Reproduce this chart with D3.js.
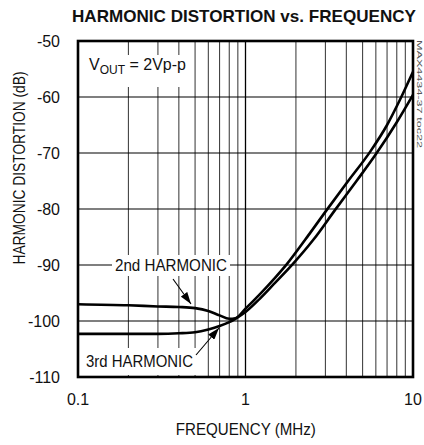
<!DOCTYPE html>
<html><head><meta charset="utf-8">
<script src="https://cdn.jsdelivr.net/npm/d3@7"></script>
<style>body{margin:0;background:#fff}svg{display:block;font-family:"Liberation Sans",Arial,sans-serif}</style>
</head><body><svg id="c" width="424" height="445"></svg>
<script>
const freq2 = [0.1,0.2,0.3,0.4,0.5,0.6,0.7,0.8,0.87,1.0,1.22,1.5,1.77,2.27,3.05,4.1,5.54,7.0,8.36,10];
const h2    = [-97.0,-97.2,-97.4,-97.5,-97.7,-98.2,-99.0,-99.6,-99.5,-97.8,-95.2,-92.3,-89.8,-85.5,-80.2,-75.0,-69.8,-65.0,-60.5,-55.5];
const freq3 = [0.1,0.2,0.3,0.4,0.5,0.6,0.7,0.8,0.87,1.0,1.22,1.5,1.92,2.54,3.42,4.6,6.07,8,10];
const h3    = [-102.3,-102.3,-102.3,-102.2,-102.0,-101.5,-100.9,-100.2,-99.6,-98.4,-96.0,-93.2,-89.8,-85.5,-80.2,-75,-70,-64.5,-59.6];
const yTicks = [-50,-60,-70,-80,-90,-100,-110];
const xTicks = [0.1,1,10];
const xTickLabels = ["0.1","1","10"];
const minorFreqs = [0.2,0.3,0.4,0.5,0.6,0.7,0.8,0.9,2,3,4,5,6,7,8,9];

const svg = d3.select("#c");
const L=78,R=413,T=41,B=377;
const x = d3.scaleLog().domain([0.1,10]).range([L,R]);
const y = d3.scaleLinear().domain([-110,-50]).range([B,T]);

// grid
svg.append("g").selectAll("line").data(minorFreqs).join("line")
  .attr("x1",d=>x(d)).attr("x2",d=>x(d)).attr("y1",T).attr("y2",B)
  .attr("stroke","#444").attr("stroke-width",1.1);
svg.append("line").attr("x1",x(1)).attr("x2",x(1)).attr("y1",T).attr("y2",B)
  .attr("stroke","#000").attr("stroke-width",1.3);
svg.append("g").selectAll("line").data(yTicks.slice(1,-1)).join("line")
  .attr("x1",L).attr("x2",R).attr("y1",d=>y(d)).attr("y2",d=>y(d))
  .attr("stroke","#000").attr("stroke-width",1.1);

// white label boxes
svg.append("rect").attr("x",84).attr("y",55).attr("width",100).attr("height",32).attr("fill","#fff");
svg.append("rect").attr("x",112).attr("y",255).attr("width",118).attr("height",21).attr("fill","#fff");
svg.append("rect").attr("x",81).attr("y",348).attr("width",116).attr("height",27).attr("fill","#fff");

// curves
const line = d3.line().x(d=>x(d[0])).y(d=>y(d[1])).curve(d3.curveMonotoneX);
svg.append("path").datum(freq3.map((f,i)=>[f,h3[i]])).attr("d",line)
  .attr("fill","none").attr("stroke","#000").attr("stroke-width",2.6);
svg.append("path").datum(freq2.map((f,i)=>[f,h2[i]])).attr("d",line)
  .attr("fill","none").attr("stroke","#000").attr("stroke-width",2.6);

// frame
svg.append("rect").attr("x",L).attr("y",T).attr("width",R-L).attr("height",B-T)
  .attr("fill","none").attr("stroke","#000").attr("stroke-width",2.6);

// arrows
const defs = svg.append("defs");
defs.append("marker").attr("id","ah").attr("viewBox","0 0 12 8").attr("refX",12).attr("refY",4)
  .attr("markerWidth",12).attr("markerHeight",8).attr("markerUnits","userSpaceOnUse").attr("orient","auto")
  .append("path").attr("d","M0,0L12,4L0,8Z").attr("fill","#000");
svg.append("line").attr("x1",173).attr("y1",279).attr("x2",191).attr("y2",304)
  .attr("stroke","#000").attr("stroke-width",1.1).attr("marker-end","url(#ah)");
svg.append("line").attr("x1",196).attr("y1",355).attr("x2",219).attr("y2",328)
  .attr("stroke","#000").attr("stroke-width",1.1).attr("marker-end","url(#ah)");

// texts
const txt = (s,xx,yy,opts={}) => {
  const t = svg.append("text").attr("x",xx).attr("y",yy).text(s)
    .attr("font-size",opts.size||16).attr("fill","#111")
    .attr("text-anchor",opts.anchor||"start");
  if(opts.bold) t.attr("font-weight","bold");
  if(opts.len) t.attr("textLength",opts.len).attr("lengthAdjust","spacingAndGlyphs");
  return t;
};
txt("HARMONIC DISTORTION vs. FREQUENCY",244,22,{size:17,bold:true,anchor:"middle",len:344});
yTicks.forEach(v=>txt(String(v),60,y(v)+6,{anchor:"end"}));
xTicks.forEach((v,i)=>txt(xTickLabels[i],x(v),405,{anchor:"middle"}));
txt("FREQUENCY (MHz)",245.8,435,{anchor:"middle",len:140});
txt("HARMONIC DISTORTION (dB)",0,0,{anchor:"middle",len:193})
  .attr("transform","translate(25,168) rotate(-90)");
txt("2nd HARMONIC",115,271,{len:112});
txt("3rd HARMONIC",86,367,{len:107});
// Vout label
const vt = svg.append("text").attr("x",89).attr("y",70).attr("font-size",16).attr("fill","#111");
vt.append("tspan").text("V");
vt.append("tspan").text("OUT").attr("font-size",12).attr("dy",4);
vt.append("tspan").text(" = 2Vp-p").attr("dy",-4);
// watermark
svg.append("text").text("MAX4434-37 toc22").attr("font-size",8).attr("fill","#555")
  .attr("transform","translate(417,40) rotate(90)").attr("textLength",108).attr("lengthAdjust","spacingAndGlyphs");
</script></body></html>
